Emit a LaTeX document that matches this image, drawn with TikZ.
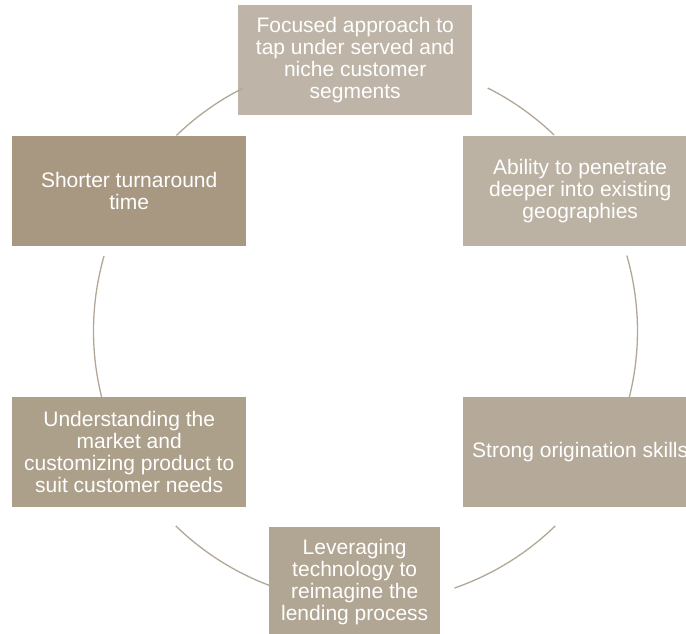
\documentclass[tikz,border=0pt]{standalone}
\usepackage{fontspec}
\setmainfont{Liberation Sans}
\definecolor{cTop}{HTML}{BEB5A8}
\definecolor{cTopRight}{HTML}{BBB2A3}
\definecolor{cBotRight}{HTML}{B5AA99}
\definecolor{cBot}{HTML}{B1A593}
\definecolor{cBotLeft}{HTML}{ACA08B}
\definecolor{cTopLeft}{HTML}{A89882}
\definecolor{cArc}{HTML}{B2A796}
\begin{document}
\begin{tikzpicture}[x=1pt,y=-1pt,
  cyclebox/.style={anchor=north west, inner sep=0pt, minimum height=110pt,
    text=white, align=center, font=\fontsize{21}{22}\selectfont},
  cyclearc/.style={draw=cArc, line width=1.3pt}]
\useasboundingbox (0,0) rectangle (686,634);
\clip (0,0) rectangle (686,634);
\node[cyclebox, fill=cTop, minimum width=234pt] (top) at (238,5)
  {Focused approach to\\tap under served and\\niche customer\\segments};
\node[cyclebox, fill=cTopRight, minimum width=234pt] (tr) at (463,136)
  {Ability to penetrate\\deeper into existing\\geographies};
\node[cyclebox, fill=cBotRight, minimum width=234pt] (br) at (463,397)
  {Strong origination skills};
\node[cyclebox, fill=cBot, minimum width=171pt] (bot) at (269,527)
  {Leveraging\\technology to\\reimagine the\\lending process};
\node[cyclebox, fill=cBotLeft, minimum width=234pt] (bl) at (12,397)
  {Understanding the\\market and\\customizing product to\\suit customer needs};
\node[cyclebox, fill=cTopLeft, minimum width=234pt] (tl) at (12,136)
  {Shorter turnaround\\time};
\coordinate (c) at (365.5,331);
% arcs (angles measured in y-up sense; y axis is flipped so negate)
\draw[cyclearc] ([shift={(-63.3:272)}]c) arc[start angle=-63.3, end angle=-46.1, radius=272];
\draw[cyclearc] ([shift={(-16.1:272)}]c) arc[start angle=-16.1, end angle=14.1, radius=272];
\draw[cyclearc] ([shift={(45.8:272)}]c) arc[start angle=45.8, end angle=70.9, radius=272];
\draw[cyclearc] ([shift={(110.7:272)}]c) arc[start angle=110.7, end angle=134.2, radius=272];
\draw[cyclearc] ([shift={(166.0:272)}]c) arc[start angle=166.0, end angle=196.0, radius=272];
\draw[cyclearc] ([shift={(-134.0:272)}]c) arc[start angle=-134.0, end angle=-116.9, radius=272];
\end{tikzpicture}
\end{document}
